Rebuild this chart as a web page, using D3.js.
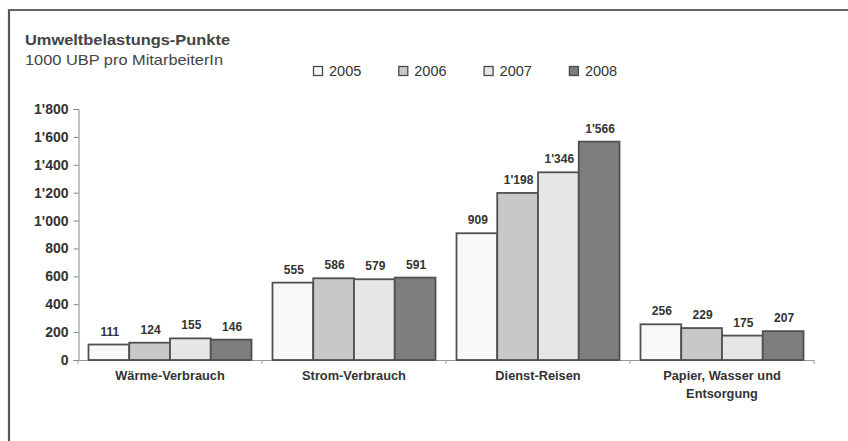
<!DOCTYPE html>
<html>
<head>
<meta charset="utf-8">
<script src="https://cdn.jsdelivr.net/npm/d3@7"></script>
<style>
  html, body { margin: 0; padding: 0; background: #fff; }
  svg { display: block; }
  text { font-family: "Liberation Sans", Arial, sans-serif; fill: #333; }
</style>
</head>
<body>
<svg id="chart" width="848" height="441"></svg>
<script>
const categories = ["Wärme-Verbrauch", "Strom-Verbrauch", "Dienst-Reisen", "Papier, Wasser und\nEntsorgung"];
const years = ["2005", "2006", "2007", "2008"];
const values2005 = [111, 555, 909, 256];
const values2006 = [124, 586, 1198, 229];
const values2007 = [155, 579, 1346, 175];
const values2008 = [146, 591, 1566, 207];
const yTicks = [0, 200, 400, 600, 800, 1000, 1200, 1400, 1600, 1800];
const titleText = "Umweltbelastungs-Punkte";
const subtitleText = "1000 UBP pro MitarbeiterIn";

const seriesValues = [values2005, values2006, values2007, values2008];
const colors = ["#f8f8f8", "#c8c8c8", "#e6e6e6", "#7e7e7e"];

const svg = d3.select("#chart");
const fmt = d3.formatLocale({decimal: ".", thousands: "'", grouping: [3], currency: ["", ""]}).format(",d");

// frame (left and top)
svg.append("line").attr("x1", 9).attr("x2", 9).attr("y1", 9).attr("y2", 441)
  .attr("stroke", "#555").attr("stroke-width", 2.2);
svg.append("line").attr("x1", 8).attr("x2", 848).attr("y1", 10).attr("y2", 10)
  .attr("stroke", "#666").attr("stroke-width", 2.2);

// titles
svg.append("text").attr("x", 25).attr("y", 45).text(titleText)
  .attr("textLength", 205).attr("lengthAdjust", "spacingAndGlyphs")
  .style("font-size", "15px").style("font-weight", "bold").style("fill", "#444");
svg.append("text").attr("x", 25).attr("y", 65).text(subtitleText)
  .attr("textLength", 198).attr("lengthAdjust", "spacingAndGlyphs")
  .style("font-size", "14.5px").style("fill", "#444");

const x0 = d3.scaleBand().domain(categories).range([78, 814]).paddingInner(0.114).paddingOuter(0.057);
const x1 = d3.scaleBand().domain(years).range([0, x0.bandwidth()]).padding(0);
const y = d3.scaleLinear().domain([0, 1800]).range([360, 109]);

// y axis
const yAxis = svg.append("g").attr("transform", "translate(78.5,0)")
  .call(d3.axisLeft(y).tickValues(yTicks).tickFormat(fmt).tickSize(5).tickPadding(5));
yAxis.select(".domain").attr("stroke", "#888");
yAxis.selectAll(".tick line").attr("stroke", "#888");
yAxis.selectAll("text").style("font-size", "14px").style("font-weight", "bold")
  .style("fill", "#333").style("font-family", "'Liberation Sans', Arial, sans-serif");

// x axis
const boundaries = [78, ...categories.map(c => x0(c) + x0.bandwidth() + x0.step() * x0.paddingInner() / 2)];
const xAxisG = svg.append("g");
xAxisG.append("line").attr("x1", 78).attr("x2", 814).attr("y1", 360.5).attr("y2", 360.5)
  .attr("stroke", "#999").attr("stroke-width", 1.2);
xAxisG.selectAll("line.tk").data(boundaries).join("line").attr("class", "tk")
  .attr("x1", d => d).attr("x2", d => d).attr("y1", 360).attr("y2", 364)
  .attr("stroke", "#999");

// bars
const groups = svg.append("g").selectAll("g").data(categories).join("g")
  .attr("transform", c => `translate(${x0(c)},0)`);
groups.each(function(c, ci) {
  const g = d3.select(this);
  years.forEach((yr, si) => {
    const v = seriesValues[si][ci];
    g.append("rect")
      .attr("x", x1(yr)).attr("y", y(v))
      .attr("width", x1.bandwidth()).attr("height", y(0) - y(v))
      .attr("fill", colors[si]).attr("stroke", "#505050").attr("stroke-width", 1.8);
    g.append("text")
      .attr("x", x1(yr) + x1.bandwidth() / 2 + 1).attr("y", y(v) - 9)
      .attr("text-anchor", "middle").text(fmt(v))
      .style("font-size", "12px").style("font-weight", "bold");
  });
});

// category labels
svg.append("g").selectAll("text").data(categories).join("text")
  .attr("text-anchor", "middle")
  .attr("x", c => x0(c) + x0.bandwidth() / 2)
  .attr("y", 380)
  .style("font-size", "12.8px").style("font-weight", "bold")
  .each(function(c) {
    const t = d3.select(this);
    c.split("\n").forEach((line, i) => {
      t.append("tspan").attr("x", x0(c) + x0.bandwidth() / 2).attr("dy", i === 0 ? 0 : 18).text(line);
    });
  });

// legend
const legend = svg.append("g").selectAll("g").data(years).join("g")
  .attr("transform", (d, i) => `translate(${313 + i * 85.3},66)`);
legend.append("rect").attr("x", 0.5).attr("y", 0.5).attr("width", 9).attr("height", 9)
  .attr("fill", (d, i) => colors[i]).attr("stroke", "#4a4a4a").attr("stroke-width", 1.3);
legend.append("text").attr("x", 16).attr("y", 10).text(d => d)
  .style("font-size", "14.5px");
</script>
</body>
</html>
